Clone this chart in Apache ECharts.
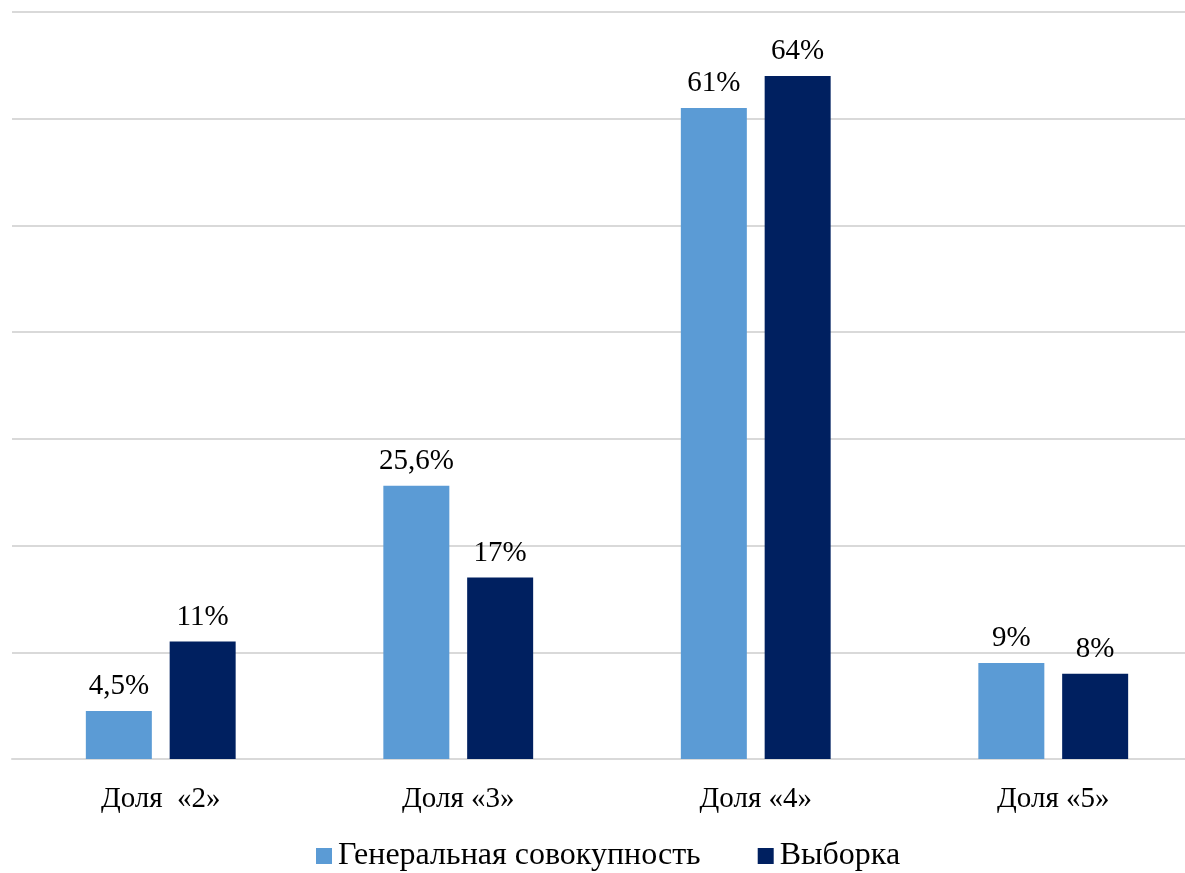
<!DOCTYPE html>
<html>
<head>
<meta charset="utf-8">
<script src="https://cdn.jsdelivr.net/npm/echarts@6/dist/echarts.min.js"></script>
<style>html,body{margin:0;padding:0;background:#fff;overflow:hidden;width:1185px;height:873px;}#c{width:1210px;height:873px;}</style>
</head>
<body>
<div id="c"></div>
<script>
const categories = ['Доля  «2»', 'Доля «3»', 'Доля «4»', 'Доля «5»'];
const seriesNames = ['Генеральная совокупность', 'Выборка'];
const generalValues = [4.5, 25.6, 61, 9];
const sampleValues = [11, 17, 64, 8];
const valueLabels1 = ['4,5%', '25,6%', '61%', '9%'];
const valueLabels2 = ['11%', '17%', '64%', '8%'];

const font = 'Liberation Serif';
const chart = echarts.init(document.getElementById('c'));
function mk(name, vals, labels, color) {
  return {
    name: name, type: 'bar', data: vals, barWidth: 66, barGap: '27%',
    itemStyle: { color: color },
    label: { show: true, position: 'top', distance: 10, fontFamily: font, fontSize: 29, color: '#000',
      formatter: p => labels[p.dataIndex] }
  };
}
chart.setOption({
  animation: false,
  grid: { left: 12, right: 8, top: 12, bottom: 114 },
  legend: {
    left: 316, top: 840, padding: 0, itemWidth: 16, itemHeight: 16, itemGap: 57,
    icon: 'rect',
    textStyle: { fontFamily: font, fontSize: 32, color: '#000', padding: [0,0,0,1] },
    data: seriesNames
  },
  xAxis: {
    type: 'category', data: categories,
    axisLine: { lineStyle: { color: '#d9d9d9', width: 2 } },
    axisTick: { show: false },
    axisLabel: { fontFamily: font, fontSize: 29, color: '#000', margin: 26 }
  },
  yAxis: {
    type: 'value', min: 0, max: 70, interval: 10,
    axisLabel: { show: false }, axisLine: { show: false }, axisTick: { show: false },
    splitLine: { lineStyle: { color: '#d9d9d9', width: 2 } }
  },
  series: [
    mk(seriesNames[0], generalValues, valueLabels1, '#5B9BD5'),
    mk(seriesNames[1], sampleValues, valueLabels2, '#002060')
  ]
});
</script>
</body>
</html>
